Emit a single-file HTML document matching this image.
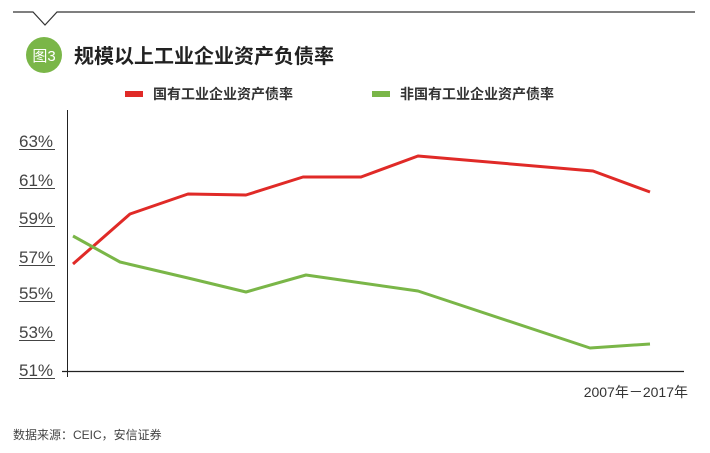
<!DOCTYPE html><html><head><meta charset="utf-8"><style>body{margin:0;background:#fff}svg{display:block}text{font-family:"Liberation Sans","Noto Sans CJK SC",sans-serif}</style></head><body>
<svg width="710" height="453" viewBox="0 0 710 453">
<polyline points="13,12 33,12 45,25 57,12 695,12" fill="none" stroke="#333" stroke-width="1.2"/>
<circle cx="44" cy="55" r="18" fill="#7ab648"/>
<text x="44" y="61" font-size="15" fill="#fff" text-anchor="middle">图3</text>
<text x="74" y="63" font-size="20" font-weight="bold" fill="#222">规模以上工业企业资产负债率</text>
<rect x="125" y="91" width="18" height="6" fill="#e02a27"/>
<text x="153" y="99" font-size="14" font-weight="bold" fill="#333">国有工业企业资产债率</text>
<rect x="372" y="91" width="18" height="6" fill="#7ab648"/>
<text x="400" y="99" font-size="14" font-weight="bold" fill="#333">非国有工业企业资产债率</text>
<line x1="67.5" y1="110" x2="67.5" y2="377" stroke="#222" stroke-width="1"/>
<line x1="62" y1="371.5" x2="684" y2="371.5" stroke="#222" stroke-width="1.2"/>
<g font-size="17" fill="#444" stroke="#444" stroke-width="1">
<text x="19" y="147" stroke="none">63%</text><line x1="19" y1="149.5" x2="55" y2="149.5"/>
<text x="19" y="186" stroke="none">61%</text><line x1="19" y1="188.5" x2="55" y2="188.5"/>
<text x="19" y="224" stroke="none">59%</text><line x1="19" y1="226.5" x2="55" y2="226.5"/>
<text x="19" y="263" stroke="none">57%</text><line x1="19" y1="265.5" x2="55" y2="265.5"/>
<text x="19" y="299" stroke="none">55%</text><line x1="19" y1="301.5" x2="55" y2="301.5"/>
<text x="19" y="338" stroke="none">53%</text><line x1="19" y1="340.5" x2="55" y2="340.5"/>
<text x="19" y="376" stroke="none">51%</text><line x1="19" y1="378.5" x2="55" y2="378.5"/>
</g>
<polyline points="73,264 130,214 188,194 246,195 303,177 361,177 418,156 593,171 650,192" fill="none" stroke="#e02a27" stroke-width="3" stroke-linejoin="round"/>
<polyline points="73,236 120,262 188,278 246,292 306,275 418,291 590,348 650,344" fill="none" stroke="#7ab648" stroke-width="3" stroke-linejoin="round"/>
<text x="688" y="397" font-size="14" fill="#333" text-anchor="end">2007年－2017年</text>
<text x="13" y="439" font-size="12" fill="#444">数据来源：CEIC，安信证券</text>
</svg></body></html>
